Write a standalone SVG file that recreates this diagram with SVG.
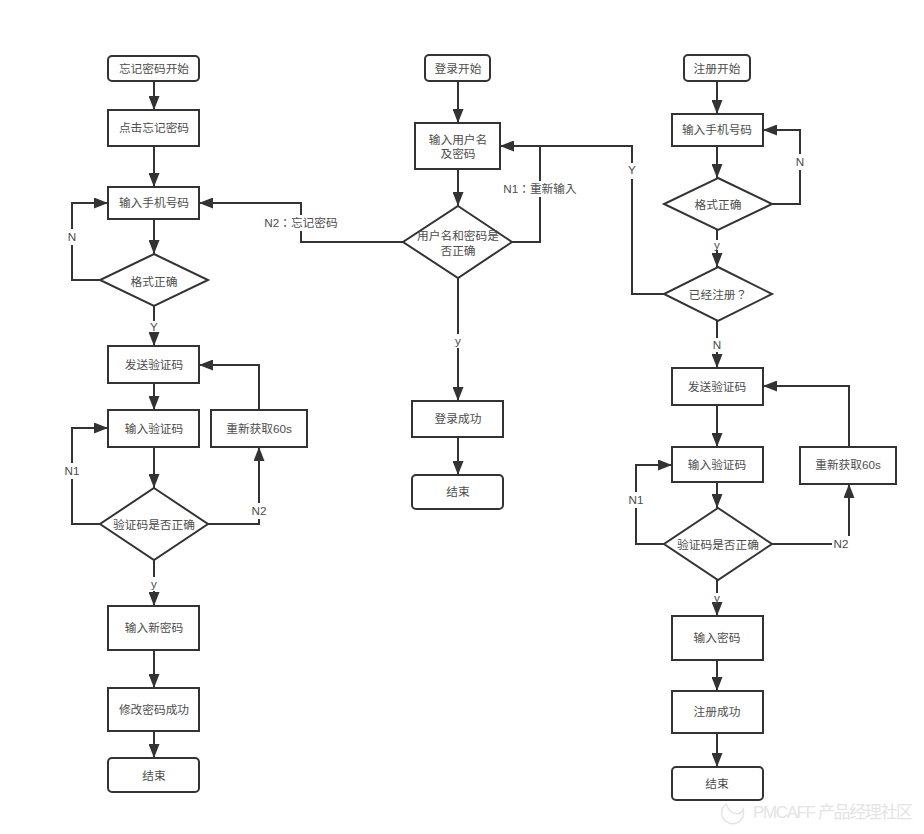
<svg xmlns="http://www.w3.org/2000/svg" width="924" height="834" viewBox="0 0 924 834">
<style>
text{font-family:"Liberation Sans","Noto Sans CJK SC",sans-serif;font-size:11.7px;fill:#4d4d4d;text-anchor:middle}
text.tc{font-family:"Liberation Sans","Noto Sans CJK TC",sans-serif}
.n rect,.n polygon{fill:#fff;stroke:#333;stroke-width:2}
#connectors path{fill:none;stroke:#333;stroke-width:2}
#connectors path.a{marker-end:url(#ah)}
.lb rect{fill:#fff;stroke:none}
.wm{fill:#e4e4e4;font-size:17px;text-anchor:start}
</style>
<defs><marker id="ah" markerUnits="userSpaceOnUse" markerWidth="15" markerHeight="11" refX="14" refY="5.5" orient="auto"><path d="M0 0L14 5.5L0 11z" fill="#333"/></marker></defs>
<rect width="924" height="834" fill="#fff"/>
<g id="connectors">
<path class="a" d="M154 81V110"/>
<path class="a" d="M154 146V187"/>
<path class="a" d="M154 219V254"/>
<path class="a" d="M154 306V346"/>
<path class="a" d="M100 280H72V203H108"/>
<path class="a" d="M403 242H301V203H199"/>
<path class="a" d="M154 383V410"/>
<path class="a" d="M154 447V488"/>
<path class="a" d="M100 524H72V428H108"/>
<path class="a" d="M208 524H259V447"/>
<path class="a" d="M259 410V365H199"/>
<path class="a" d="M154 560V606"/>
<path class="a" d="M154 650V688"/>
<path class="a" d="M154 731V758"/>
<path class="a" d="M458 81V123"/>
<path class="a" d="M458 169V206"/>
<path class="a" d="M458 278V401"/>
<path class="a" d="M458 437V475"/>
<path d="M512 242H540V146"/>
<path class="a" d="M664 294H632V146H500"/>
<path class="a" d="M717 81V114"/>
<path class="a" d="M717 146V178"/>
<path class="a" d="M772 204H800V130H763"/>
<path class="a" d="M717 230V267"/>
<path class="a" d="M717 321V368"/>
<path class="a" d="M717 405V447"/>
<path class="a" d="M717 482V508"/>
<path class="a" d="M664 544H636V465H672"/>
<path class="a" d="M772 544H849V484"/>
<path class="a" d="M849 447V386H763"/>
<path class="a" d="M717 580V616"/>
<path class="a" d="M717 660V691"/>
<path class="a" d="M717 733V767"/>
</g>
<g id="edge-labels" class="lb">
<rect x="65" y="229" width="14" height="16"/><text x="72" y="241">N</text>
<rect x="263" y="215" width="76" height="16"/><text class="tc" x="301" y="227">N2：忘记密码</text>
<rect x="149" y="321" width="10" height="11"/><text x="154" y="331">Y</text>
<rect x="63" y="463" width="18" height="16"/><text x="72" y="475">N1</text>
<rect x="250" y="503" width="19" height="16"/><text x="259" y="515">N2</text>
<rect x="149" y="577" width="10" height="14"/><text x="154" y="588">y</text>
<rect x="502" y="181" width="76" height="16"/><text class="tc" x="540" y="193">N1：重新输入</text>
<rect x="626" y="163" width="12" height="16"/><text x="632" y="174">Y</text>
<rect x="453" y="334" width="10" height="14"/><text x="458" y="345">y</text>
<rect x="794" y="154" width="13" height="16"/><text x="800" y="166">N</text>
<rect x="712" y="240" width="10" height="10"/><text x="717" y="249">y</text>
<rect x="711" y="338" width="13" height="14"/><text x="717" y="349">N</text>
<rect x="627" y="492" width="18" height="16"/><text x="636" y="504">N1</text>
<rect x="832" y="536" width="18" height="16"/><text x="841" y="548">N2</text>
<rect x="712" y="593" width="10" height="9"/><text x="717" y="602">y</text>
</g>
<g id="forgot-start" class="n"><rect x="108" y="56" width="91" height="25" rx="4"/><text x="154" y="73">忘记密码开始</text></g>
<g id="forgot-click" class="n"><rect x="108" y="110" width="91" height="36"/><text x="154" y="132">点击忘记密码</text></g>
<g id="forgot-phone" class="n"><rect x="108" y="187" width="91" height="32"/><text x="154" y="207">输入手机号码</text></g>
<g id="forgot-format" class="n"><polygon points="154,254 208,280 154,306 100,280"/><text x="154" y="286">格式正确</text></g>
<g id="forgot-send" class="n"><rect x="108" y="346" width="91" height="37"/><text x="154" y="369">发送验证码</text></g>
<g id="forgot-code" class="n"><rect x="108" y="410" width="91" height="37"/><text x="154" y="433">输入验证码</text></g>
<g id="forgot-check" class="n"><polygon points="154,488 208,524 154,560 100,524"/><text x="154" y="529">验证码是否正确</text></g>
<g id="forgot-resend" class="n"><rect x="211" y="410" width="96" height="37"/><text x="259" y="433">重新获取60s</text></g>
<g id="forgot-new" class="n"><rect x="108" y="606" width="91" height="44"/><text x="154" y="632">输入新密码</text></g>
<g id="forgot-ok" class="n"><rect x="108" y="688" width="91" height="43"/><text x="154" y="714">修改密码成功</text></g>
<g id="forgot-end" class="n"><rect x="108" y="758" width="91" height="34" rx="4"/><text x="154" y="780">结束</text></g>
<g id="login-start" class="n"><rect x="425" y="55" width="65" height="26" rx="4"/><text x="458" y="73">登录开始</text></g>
<g id="login-input" class="n"><rect x="415" y="123" width="85" height="46"/><text x="458" y="144">输入用户名</text><text x="458" y="158">及密码</text></g>
<g id="login-check" class="n"><polygon points="458,206 512,242 458,278 403,242"/><text x="458" y="240">用户名和密码是</text><text x="458" y="255">否正确</text></g>
<g id="login-ok" class="n"><rect x="412" y="401" width="91" height="36"/><text x="458" y="423">登录成功</text></g>
<g id="login-end" class="n"><rect x="412" y="475" width="91" height="34" rx="4"/><text x="458" y="496">结束</text></g>
<g id="reg-start" class="n"><rect x="684" y="55" width="66" height="26" rx="4"/><text x="717" y="73">注册开始</text></g>
<g id="reg-phone" class="n"><rect x="672" y="114" width="91" height="32"/><text x="717" y="134">输入手机号码</text></g>
<g id="reg-format" class="n"><polygon points="718,178 772,204 718,230 664,204"/><text x="718" y="209">格式正确</text></g>
<g id="reg-exists" class="n"><polygon points="718,267 772,294 718,321 664,294"/><text class="tc" x="718" y="299">已经注册？</text></g>
<g id="reg-send" class="n"><rect x="672" y="368" width="91" height="37"/><text x="717" y="391">发送验证码</text></g>
<g id="reg-code" class="n"><rect x="672" y="447" width="91" height="35"/><text x="717" y="469">输入验证码</text></g>
<g id="reg-check" class="n"><polygon points="718,508 772,544 718,580 664,544"/><text x="718" y="549">验证码是否正确</text></g>
<g id="reg-resend" class="n"><rect x="800" y="447" width="96" height="37"/><text x="848" y="469">重新获取60s</text></g>
<g id="reg-pw" class="n"><rect x="672" y="616" width="91" height="44"/><text x="717" y="642">输入密码</text></g>
<g id="reg-ok" class="n"><rect x="672" y="691" width="91" height="42"/><text x="717" y="716">注册成功</text></g>
<g id="reg-end" class="n"><rect x="672" y="767" width="91" height="33" rx="4"/><text x="717" y="788">结束</text></g>
<g id="watermark"><path d="M726 804A11 11 0 1 0 743 809C741 816 731 816 726 804Z" fill="#fff" stroke="#e4e4e4" stroke-width="1.5"/><text class="wm" x="753" y="818" textLength="160">PMCAFF 产品经理社区</text></g>
</svg>
